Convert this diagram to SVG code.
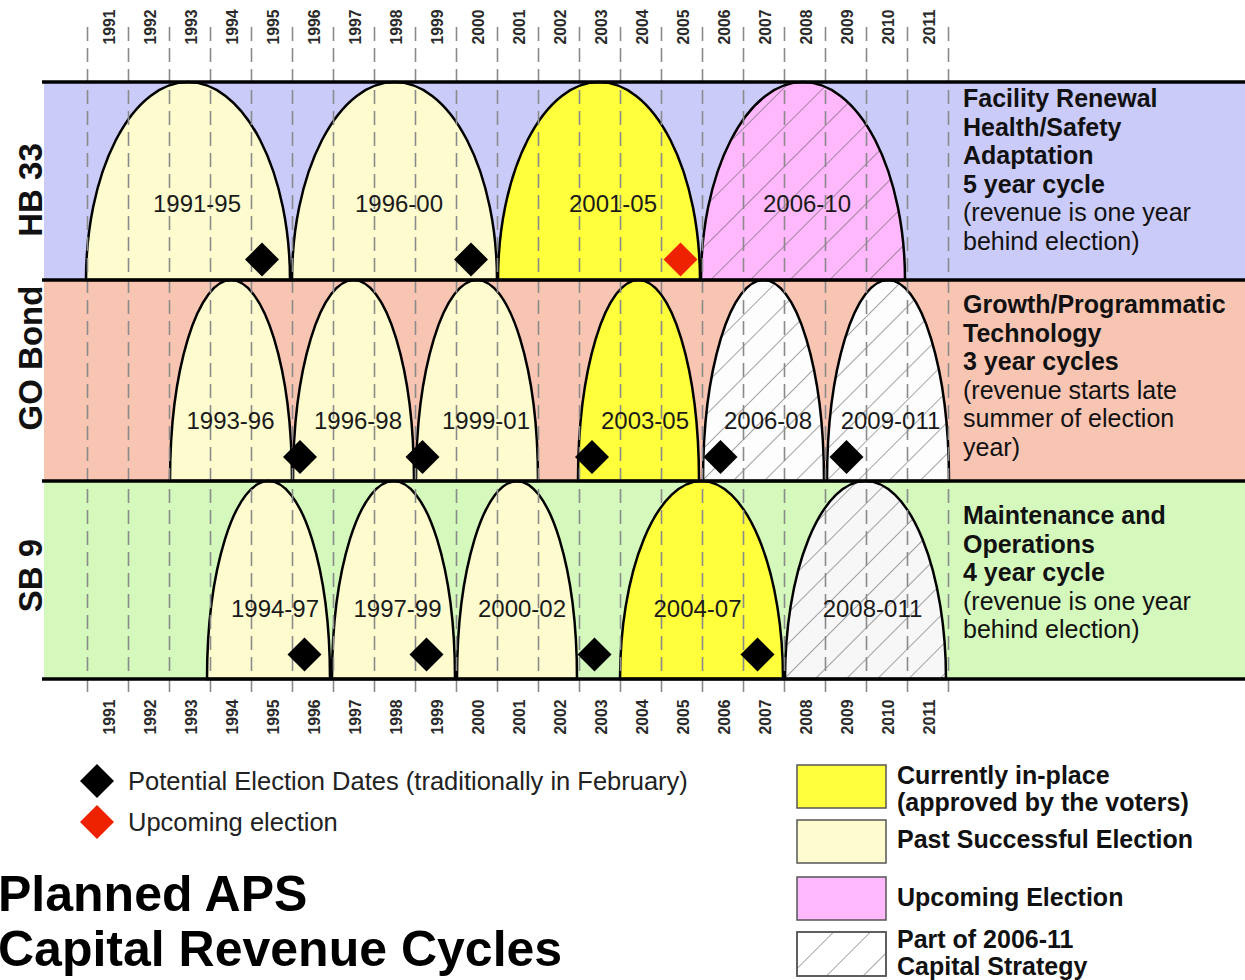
<svg xmlns="http://www.w3.org/2000/svg" xmlns:xlink="http://www.w3.org/1999/xlink" width="1245" height="980" viewBox="0 0 1245 980">
<style>
.yr{font-family:"Liberation Sans",Arial,sans-serif;font-size:17px;font-weight:bold;fill:#2a2a2a;text-anchor:middle}
.lbl{font-family:"Liberation Sans",Arial,sans-serif;font-size:24px;fill:#1a1a1a;text-anchor:middle}
.row{font-family:"Liberation Sans",Arial,sans-serif;font-size:33px;font-weight:bold;fill:#111;text-anchor:middle}
.side{font-family:"Liberation Sans",Arial,sans-serif;font-size:25px;fill:#111}
.b{font-weight:bold}
.leg{font-family:"Liberation Sans",Arial,sans-serif;font-size:25px;font-weight:bold;fill:#111}
.note{font-family:"Liberation Sans",Arial,sans-serif;font-size:25.5px;fill:#222}
.title{font-family:"Liberation Sans",Arial,sans-serif;font-size:50px;font-weight:bold;fill:#000}
.arc{stroke:#000;stroke-width:2.5}
.past{fill:#fefccf}
.cur{fill:#ffff3c}
.pink{fill:#ffb8fc}
.white{fill:#fdfdfd}
.grid{stroke:#8a8a8a;stroke-width:1.6;stroke-dasharray:14 7;fill:none}
.hline{stroke:#000;stroke-width:3.5}
.box{stroke:#555;stroke-width:1.5}
</style>
<defs>
<pattern id="hatchP" patternUnits="userSpaceOnUse" width="28" height="28" patternTransform="rotate(45)">
<line x1="0" y1="0" x2="0" y2="28" stroke="#5a5a5a" stroke-width="1.1"/>
</pattern>
<pattern id="hatchW" patternUnits="userSpaceOnUse" width="22" height="22" patternTransform="rotate(45)">
<line x1="0" y1="0" x2="0" y2="22" stroke="#5a5a5a" stroke-width="1.1"/>
</pattern>
<pattern id="hatchL" patternUnits="userSpaceOnUse" width="26" height="26" patternTransform="rotate(45)">
<line x1="0" y1="0" x2="0" y2="26" stroke="#5a5a5a" stroke-width="1.1"/>
</pattern>
<path id="dia" d="M0,-17 L17,0 L0,17 L-17,0Z"/>
</defs>

<!-- row backgrounds -->
<g id="bands">
<rect x="44" y="82" width="1201" height="198" fill="#cbcbf9"/>
<rect x="44" y="280" width="1201" height="201" fill="#f9c5b3"/>
<rect x="44" y="481" width="1201" height="198" fill="#d5f9bc"/>
</g>

<!-- arcs HB 33 -->
<g id="hb-1991-95"><path class="arc past" d="M86,280 A102,198 0 0 1 290,280Z"/></g>
<g id="hb-1996-00"><path class="arc past" d="M292,280 A102.5,198 0 0 1 497,280Z"/></g>
<g id="hb-2001-05"><path class="arc cur" d="M498,280 A101,198 0 0 1 700,280Z"/></g>
<g id="hb-2006-10"><path class="pink" d="M701,280 A102,198 0 0 1 905,280Z"/><path class="arc" fill="url(#hatchP)" d="M701,280 A102,198 0 0 1 905,280Z"/></g>

<!-- arcs GO Bond -->
<g id="go-1993-96"><path class="arc past" d="M170,481 A61,201 0 0 1 292,481Z"/></g>
<g id="go-1996-98"><path class="arc past" d="M293,481 A60.5,201 0 0 1 414,481Z"/></g>
<g id="go-1999-01"><path class="arc past" d="M416,481 A61,201 0 0 1 538,481Z"/></g>
<g id="go-2003-05"><path class="arc cur" d="M578,481 A60.5,201 0 0 1 699,481Z"/></g>
<g id="go-2006-08"><path class="white" d="M703,481 A60.5,201 0 0 1 824,481Z"/><path class="arc" fill="url(#hatchW)" d="M703,481 A60.5,201 0 0 1 824,481Z"/></g>
<g id="go-2009-011"><path class="white" d="M827,481 A61,201 0 0 1 949,481Z"/><path class="arc" fill="url(#hatchW)" d="M827,481 A61,201 0 0 1 949,481Z"/></g>

<!-- arcs SB 9 -->
<g id="sb-1994-97"><path class="arc past" d="M207,679 A61.5,198 0 0 1 330,679Z"/></g>
<g id="sb-1997-99"><path class="arc past" d="M332,679 A61.5,198 0 0 1 455,679Z"/></g>
<g id="sb-2000-02"><path class="arc past" d="M457,679 A60,198 0 0 1 577,679Z"/></g>
<g id="sb-2004-07"><path class="arc cur" d="M620,679 A81.5,198 0 0 1 783,679Z"/></g>
<g id="sb-2008-011"><path fill="#f7f7f7" d="M785,679 A80.5,198 0 0 1 946,679Z"/><path class="arc" fill="url(#hatchW)" d="M785,679 A80.5,198 0 0 1 946,679Z"/></g>

<!-- year gridlines -->
<g id="connectors">
<g class="grid">
<line x1="87.5" y1="27" x2="87.5" y2="697"/>
<line x1="128.5" y1="27" x2="128.5" y2="697"/>
<line x1="169.5" y1="27" x2="169.5" y2="697"/>
<line x1="210.5" y1="27" x2="210.5" y2="697"/>
<line x1="251.5" y1="27" x2="251.5" y2="697"/>
<line x1="292.5" y1="27" x2="292.5" y2="697"/>
<line x1="333.5" y1="27" x2="333.5" y2="697"/>
<line x1="374.5" y1="27" x2="374.5" y2="697"/>
<line x1="415.5" y1="27" x2="415.5" y2="697"/>
<line x1="456.5" y1="27" x2="456.5" y2="697"/>
<line x1="497.5" y1="27" x2="497.5" y2="697"/>
<line x1="538.5" y1="27" x2="538.5" y2="697"/>
<line x1="579.5" y1="27" x2="579.5" y2="697"/>
<line x1="620.5" y1="27" x2="620.5" y2="697"/>
<line x1="661.5" y1="27" x2="661.5" y2="697"/>
<line x1="702.5" y1="27" x2="702.5" y2="697"/>
<line x1="743.5" y1="27" x2="743.5" y2="697"/>
<line x1="784.5" y1="27" x2="784.5" y2="697"/>
<line x1="825.5" y1="27" x2="825.5" y2="697"/>
<line x1="866.5" y1="27" x2="866.5" y2="697"/>
<line x1="907.5" y1="27" x2="907.5" y2="697"/>
<line x1="948.5" y1="27" x2="948.5" y2="697"/>
</g>
<g class="hline">
<line x1="42" y1="82" x2="1245" y2="82"/>
<line x1="42" y1="280" x2="1245" y2="280"/>
<line x1="42" y1="481" x2="1245" y2="481"/>
<line x1="42" y1="679" x2="1245" y2="679"/>
</g>
</g>

<!-- year labels top -->
<g id="years-top" class="yr">
<text transform="translate(114.5,27) rotate(-90)" textLength="35" lengthAdjust="spacingAndGlyphs">1991</text>
<text transform="translate(155.5,27) rotate(-90)" textLength="35" lengthAdjust="spacingAndGlyphs">1992</text>
<text transform="translate(196.5,27) rotate(-90)" textLength="35" lengthAdjust="spacingAndGlyphs">1993</text>
<text transform="translate(237.5,27) rotate(-90)" textLength="35" lengthAdjust="spacingAndGlyphs">1994</text>
<text transform="translate(278.5,27) rotate(-90)" textLength="35" lengthAdjust="spacingAndGlyphs">1995</text>
<text transform="translate(319.5,27) rotate(-90)" textLength="35" lengthAdjust="spacingAndGlyphs">1996</text>
<text transform="translate(360.5,27) rotate(-90)" textLength="35" lengthAdjust="spacingAndGlyphs">1997</text>
<text transform="translate(401.5,27) rotate(-90)" textLength="35" lengthAdjust="spacingAndGlyphs">1998</text>
<text transform="translate(442.5,27) rotate(-90)" textLength="35" lengthAdjust="spacingAndGlyphs">1999</text>
<text transform="translate(483.5,27) rotate(-90)" textLength="35" lengthAdjust="spacingAndGlyphs">2000</text>
<text transform="translate(524.5,27) rotate(-90)" textLength="35" lengthAdjust="spacingAndGlyphs">2001</text>
<text transform="translate(565.5,27) rotate(-90)" textLength="35" lengthAdjust="spacingAndGlyphs">2002</text>
<text transform="translate(606.5,27) rotate(-90)" textLength="35" lengthAdjust="spacingAndGlyphs">2003</text>
<text transform="translate(647.5,27) rotate(-90)" textLength="35" lengthAdjust="spacingAndGlyphs">2004</text>
<text transform="translate(688.5,27) rotate(-90)" textLength="35" lengthAdjust="spacingAndGlyphs">2005</text>
<text transform="translate(729.5,27) rotate(-90)" textLength="35" lengthAdjust="spacingAndGlyphs">2006</text>
<text transform="translate(770.5,27) rotate(-90)" textLength="35" lengthAdjust="spacingAndGlyphs">2007</text>
<text transform="translate(811.5,27) rotate(-90)" textLength="35" lengthAdjust="spacingAndGlyphs">2008</text>
<text transform="translate(852.5,27) rotate(-90)" textLength="35" lengthAdjust="spacingAndGlyphs">2009</text>
<text transform="translate(893.5,27) rotate(-90)" textLength="35" lengthAdjust="spacingAndGlyphs">2010</text>
<text transform="translate(934.5,27) rotate(-90)" textLength="35" lengthAdjust="spacingAndGlyphs">2011</text>
</g>
<g id="years-bottom" class="yr">
<text transform="translate(114.5,717) rotate(-90)" textLength="35" lengthAdjust="spacingAndGlyphs">1991</text>
<text transform="translate(155.5,717) rotate(-90)" textLength="35" lengthAdjust="spacingAndGlyphs">1992</text>
<text transform="translate(196.5,717) rotate(-90)" textLength="35" lengthAdjust="spacingAndGlyphs">1993</text>
<text transform="translate(237.5,717) rotate(-90)" textLength="35" lengthAdjust="spacingAndGlyphs">1994</text>
<text transform="translate(278.5,717) rotate(-90)" textLength="35" lengthAdjust="spacingAndGlyphs">1995</text>
<text transform="translate(319.5,717) rotate(-90)" textLength="35" lengthAdjust="spacingAndGlyphs">1996</text>
<text transform="translate(360.5,717) rotate(-90)" textLength="35" lengthAdjust="spacingAndGlyphs">1997</text>
<text transform="translate(401.5,717) rotate(-90)" textLength="35" lengthAdjust="spacingAndGlyphs">1998</text>
<text transform="translate(442.5,717) rotate(-90)" textLength="35" lengthAdjust="spacingAndGlyphs">1999</text>
<text transform="translate(483.5,717) rotate(-90)" textLength="35" lengthAdjust="spacingAndGlyphs">2000</text>
<text transform="translate(524.5,717) rotate(-90)" textLength="35" lengthAdjust="spacingAndGlyphs">2001</text>
<text transform="translate(565.5,717) rotate(-90)" textLength="35" lengthAdjust="spacingAndGlyphs">2002</text>
<text transform="translate(606.5,717) rotate(-90)" textLength="35" lengthAdjust="spacingAndGlyphs">2003</text>
<text transform="translate(647.5,717) rotate(-90)" textLength="35" lengthAdjust="spacingAndGlyphs">2004</text>
<text transform="translate(688.5,717) rotate(-90)" textLength="35" lengthAdjust="spacingAndGlyphs">2005</text>
<text transform="translate(729.5,717) rotate(-90)" textLength="35" lengthAdjust="spacingAndGlyphs">2006</text>
<text transform="translate(770.5,717) rotate(-90)" textLength="35" lengthAdjust="spacingAndGlyphs">2007</text>
<text transform="translate(811.5,717) rotate(-90)" textLength="35" lengthAdjust="spacingAndGlyphs">2008</text>
<text transform="translate(852.5,717) rotate(-90)" textLength="35" lengthAdjust="spacingAndGlyphs">2009</text>
<text transform="translate(893.5,717) rotate(-90)" textLength="35" lengthAdjust="spacingAndGlyphs">2010</text>
<text transform="translate(934.5,717) rotate(-90)" textLength="35" lengthAdjust="spacingAndGlyphs">2011</text>
</g>

<!-- arc labels -->
<g id="arc-labels" class="lbl">
<text x="197" y="211.5">1991-95</text>
<text x="399" y="211.5">1996-00</text>
<text x="613" y="211.5">2001-05</text>
<text x="807" y="211.5">2006-10</text>
<text x="230.5" y="428.5">1993-96</text>
<text x="358" y="428.5">1996-98</text>
<text x="486" y="428.5">1999-01</text>
<text x="645" y="428.5">2003-05</text>
<text x="768" y="428.5">2006-08</text>
<text x="890.5" y="428.5">2009-011</text>
<text x="275" y="616.5">1994-97</text>
<text x="397.5" y="616.5">1997-99</text>
<text x="522" y="616.5">2000-02</text>
<text x="697.5" y="616.5">2004-07</text>
<text x="872.5" y="616.5">2008-011</text>
</g>

<!-- election diamonds -->
<g id="diamonds">
<use href="#dia" x="262" y="259.5" fill="#000"/>
<use href="#dia" x="471" y="259.5" fill="#000"/>
<use href="#dia" x="680.5" y="259.5" fill="#ee2200"/>
<use href="#dia" x="300" y="457" fill="#000"/>
<use href="#dia" x="422.5" y="457" fill="#000"/>
<use href="#dia" x="592" y="457" fill="#000"/>
<use href="#dia" x="720.5" y="457" fill="#000"/>
<use href="#dia" x="846.5" y="457" fill="#000"/>
<use href="#dia" x="304.5" y="654.5" fill="#000"/>
<use href="#dia" x="426.5" y="654.5" fill="#000"/>
<use href="#dia" x="594.5" y="654.5" fill="#000"/>
<use href="#dia" x="757.5" y="654.5" fill="#000"/>
</g>

<!-- row labels -->
<g id="row-labels" class="row">
<text transform="translate(42,190) rotate(-90)">HB 33</text>
<text transform="translate(42,358) rotate(-90)">GO Bond</text>
<text transform="translate(42,575.5) rotate(-90)">SB 9</text>
</g>

<!-- side descriptions -->
<g id="desc-hb33" class="side">
<text x="963" y="107" class="b">Facility Renewal</text>
<text x="963" y="135.6" class="b">Health/Safety</text>
<text x="963" y="164.2" class="b">Adaptation</text>
<text x="963" y="192.8" class="b">5 year cycle</text>
<text x="963" y="221.4">(revenue is one year</text>
<text x="963" y="250">behind election)</text>
</g>
<g id="desc-go" class="side">
<text x="963" y="313" class="b">Growth/Programmatic</text>
<text x="963" y="341.5" class="b">Technology</text>
<text x="963" y="370" class="b">3 year cycles</text>
<text x="963" y="398.5">(revenue starts late</text>
<text x="963" y="427">summer of election</text>
<text x="963" y="455.5">year)</text>
</g>
<g id="desc-sb9" class="side">
<text x="963" y="524" class="b">Maintenance and</text>
<text x="963" y="552.5" class="b">Operations</text>
<text x="963" y="581" class="b">4 year cycle</text>
<text x="963" y="609.5">(revenue is one year</text>
<text x="963" y="638">behind election)</text>
</g>

<!-- diamond legend -->
<g id="legend-diamonds">
<use href="#dia" x="97" y="781" fill="#000"/>
<use href="#dia" x="97" y="822" fill="#ee2200"/>
<text class="note" x="128" y="790">Potential Election Dates (traditionally in February)</text>
<text class="note" x="128" y="831">Upcoming election</text>
</g>

<!-- title -->
<g id="title" class="title">
<text x="-2" y="911">Planned APS</text>
<text x="-2" y="966">Capital Revenue Cycles</text>
</g>

<!-- colour legend -->
<g id="legend-colors">
<rect class="box" x="797" y="765" width="89" height="43" fill="#ffff3c"/>
<rect class="box" x="797" y="820" width="89" height="43" fill="#fefccf"/>
<rect class="box" x="797" y="877" width="89" height="43" fill="#ffb8fc"/>
<rect class="box" x="797" y="932" width="89" height="44" fill="#fff"/>
<rect class="box" x="797" y="932" width="89" height="44" fill="url(#hatchL)"/>
<text class="leg" x="897" y="784">Currently in-place</text>
<text class="leg" x="897" y="811">(approved by the voters)</text>
<text class="leg" x="897" y="848">Past Successful Election</text>
<text class="leg" x="897" y="906">Upcoming Election</text>
<text class="leg" x="897" y="948">Part of 2006-11</text>
<text class="leg" x="897" y="975">Capital Strategy</text>
</g>
</svg>
